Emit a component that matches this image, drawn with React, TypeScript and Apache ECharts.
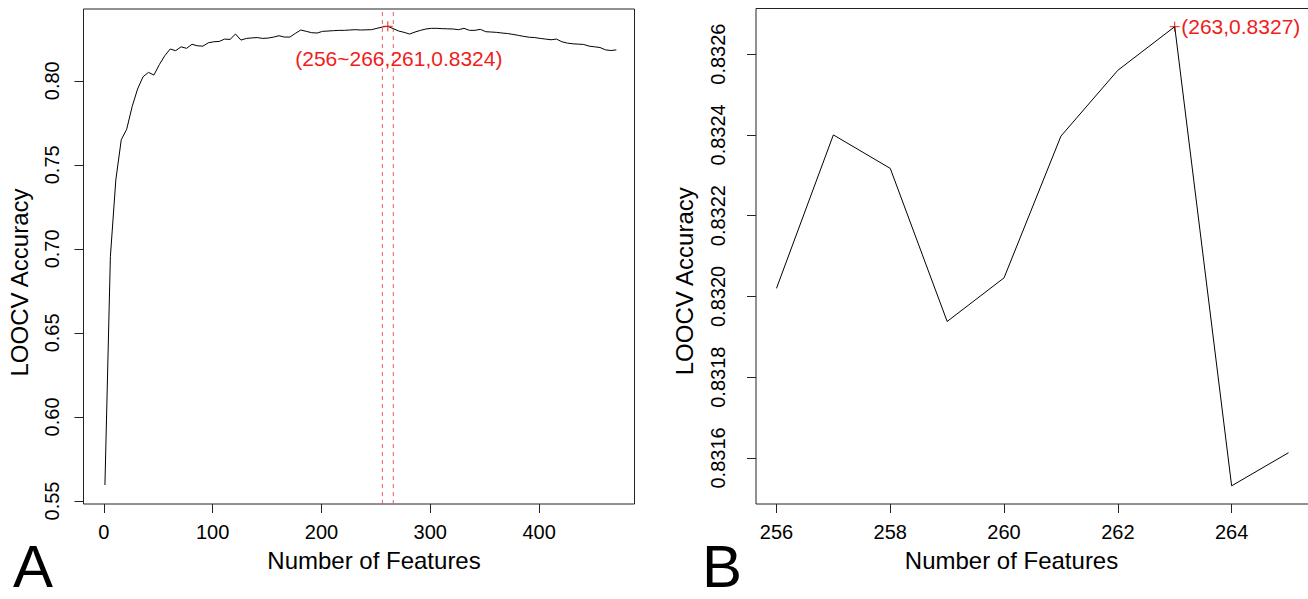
import React, { useEffect, useRef } from "react";
import * as echarts from "echarts";

// Panel A: number of features vs LOOCV accuracy (step 5)
const featuresA = [
  1, 6, 11, 16, 21, 26, 31, 36, 41, 46, 51, 56, 61, 66, 71, 76, 81, 86, 91, 96,
  101, 106, 111, 116, 121, 126, 131, 136, 141, 146, 151, 156, 161, 166, 171, 176, 181, 186, 191, 196,
  201, 206, 211, 216, 221, 226, 231, 236, 241, 246, 251, 256, 261, 266, 271, 276, 281, 286, 291, 296,
  301, 306, 311, 316, 321, 326, 331, 336, 341, 346, 351, 356, 361, 366, 371, 376, 381, 386, 391, 396,
  401, 406, 411, 416, 421, 426, 431, 436, 441, 446, 451, 456, 461, 466, 471,
];
const accuracyA = [
  0.5595, 0.6954, 0.741, 0.7649, 0.7712, 0.7846, 0.7951, 0.8024, 0.805, 0.8034,
  0.8096, 0.8149, 0.8189, 0.8179, 0.8202, 0.8193, 0.8217, 0.8208, 0.8206, 0.8226,
  0.8232, 0.8234, 0.8248, 0.8246, 0.8278, 0.8242, 0.8252, 0.8255, 0.8257, 0.8252,
  0.8254, 0.826, 0.8268, 0.826, 0.826, 0.8282, 0.8302, 0.8294, 0.8286, 0.8284,
  0.8294, 0.8296, 0.8298, 0.83, 0.83, 0.8302, 0.8304, 0.8302, 0.8303, 0.8304,
  0.8312, 0.832, 0.8324, 0.831, 0.8296, 0.8288, 0.8278, 0.829, 0.83, 0.8308,
  0.8312, 0.8312, 0.831, 0.8309, 0.8308, 0.8304, 0.8312, 0.83, 0.83, 0.8306,
  0.8292, 0.829, 0.8288, 0.8284, 0.8281, 0.8276, 0.827, 0.8264, 0.8259, 0.8257,
  0.8252, 0.8248, 0.8244, 0.8248, 0.8232, 0.8224, 0.822, 0.8218, 0.8216, 0.8206,
  0.8202, 0.8198, 0.8184, 0.818, 0.8184,
];
const rangeA = [256, 266];
const bestA = 261;

// Panel B: zoom 256..265 (step 1)
const featuresB = [256, 257, 258, 259, 260, 261, 262, 263, 264, 265];
const accuracyB = [
  0.83202, 0.8324, 0.832317, 0.831938, 0.832046, 0.832397, 0.83256, 0.832668, 0.831531, 0.831613,
];
const bestB = 263;

// Axis limits (R-style 4% padding) and tick labels
const xLimA = [-18.7, 487.7];
const yLimA = [0.5482, 0.8427];
const xLimB = [255.64, 265.36];
const yLimB = [0.831486, 0.832713];
const xTicksA = [0, 100, 200, 300, 400];
const yTicksA = [0.55, 0.6, 0.65, 0.7, 0.75, 0.8];
const xTicksB = [256, 258, 260, 262, 264];
const yTicksB = [0.8316, 0.8318, 0.832, 0.8322, 0.8324, 0.8326];

const FONT = "'Liberation Sans', Arial, Helvetica, sans-serif";
const RED = "#f01c1c";
const DASH_RED = "#f25a5a";
const PLUS = "path://M0,5L10,5M5,0L5,10";

export default function App() {
  const ref = useRef<HTMLDivElement>(null);

  useEffect(() => {
    if (!ref.current) return;
    const chart = echarts.init(ref.current, undefined, { renderer: "svg" });

    const bestAIdx = featuresA.indexOf(bestA);
    const bestBIdx = featuresB.indexOf(bestB);

    const axisCommon = {
      type: "value" as const,
      splitLine: { show: false },
      axisLine: { show: false, onZero: false },
      axisTick: { show: true, inside: false, length: 9, lineStyle: { color: "#222", width: 1 } },
    };
    const labelStyle = { color: "#000", fontSize: 20, fontFamily: FONT };
    const nameStyle = { color: "#000", fontSize: 24, fontFamily: FONT };

    const rangeSeries = rangeA.map((v) => ({
      type: "line",
      xAxisIndex: 0,
      yAxisIndex: 0,
      data: [[v, yLimA[0]], [v, yLimA[1]]],
      showSymbol: false,
      silent: true,
      lineStyle: { color: DASH_RED, type: [4, 4], width: 1 },
      itemStyle: { color: DASH_RED },
      z: 1,
    }));

    chart.setOption({
      animation: false,
      backgroundColor: "#fff",
      textStyle: { fontFamily: FONT },
      grid: [
        {
          left: 83.5, top: 9, width: 551, height: 495,
          show: true, borderColor: "#222", borderWidth: 1, backgroundColor: "transparent",
          outerBoundsMode: "none", containLabel: false,
        },
        {
          left: 756, top: 8.5, width: 553, height: 495.5,
          show: true, borderColor: "#222", borderWidth: 1, backgroundColor: "transparent",
          outerBoundsMode: "none", containLabel: false,
        },
      ],
      xAxis: [
        {
          ...axisCommon,
          gridIndex: 0,
          position: "bottom",
          min: xLimA[0],
          max: xLimA[1],
          axisTick: { ...axisCommon.axisTick, customValues: xTicksA },
          axisLabel: { ...labelStyle, margin: 18, customValues: xTicksA, formatter: (v: number) => String(v) },
          name: "Number of Features",
          nameLocation: "middle",
          nameGap: 44,
          nameTextStyle: { ...nameStyle, padding: [0, 0, 0, 30] },
        },
        {
          ...axisCommon,
          gridIndex: 1,
          position: "bottom",
          min: xLimB[0],
          max: xLimB[1],
          axisTick: { ...axisCommon.axisTick, customValues: xTicksB },
          axisLabel: { ...labelStyle, margin: 18, customValues: xTicksB, formatter: (v: number) => String(v) },
          name: "Number of Features",
          nameLocation: "middle",
          nameGap: 44,
          nameTextStyle: { ...nameStyle, padding: [0, 42, 0, 0] },
        },
      ],
      yAxis: [
        {
          ...axisCommon,
          gridIndex: 0,
          position: "left",
          min: yLimA[0],
          max: yLimA[1],
          axisTick: { ...axisCommon.axisTick, customValues: yTicksA },
          axisLabel: {
            ...labelStyle, margin: 22, rotate: 90, customValues: yTicksA,
            formatter: (v: number) => v.toFixed(2),
          },
          name: "LOOCV Accuracy",
          nameLocation: "middle",
          nameRotate: 90,
          nameGap: 52,
          nameTextStyle: { ...nameStyle, padding: [0, 52, 0, 0] },
        },
        {
          ...axisCommon,
          gridIndex: 1,
          position: "left",
          min: yLimB[0],
          max: yLimB[1],
          axisTick: { ...axisCommon.axisTick, customValues: yTicksB },
          axisLabel: {
            ...labelStyle, margin: 28, rotate: 90, customValues: yTicksB,
            formatter: (v: number) => v.toFixed(4),
          },
          name: "LOOCV Accuracy",
          nameLocation: "middle",
          nameRotate: 90,
          nameGap: 60,
          nameTextStyle: { ...nameStyle, padding: [0, 50, 0, 0] },
        },
      ],
      series: [
        ...rangeSeries,
        {
          type: "line",
          xAxisIndex: 0,
          yAxisIndex: 0,
          data: featuresA.map((x, i) => [x, accuracyA[i]]),
          showSymbol: false,
          lineStyle: { color: "#000", width: 1 },
          itemStyle: { color: "#000" },
          silent: true,
          z: 2,
        },
        {
          type: "scatter",
          xAxisIndex: 0,
          yAxisIndex: 0,
          data: [[bestA, accuracyA[bestAIdx]]],
          symbol: PLUS,
          symbolSize: 10,
          itemStyle: { color: "transparent", borderColor: RED, borderWidth: 1, opacity: 1 },
          silent: true,
          z: 3,
          label: {
            show: true,
            position: "inside",
            offset: [11, 32],
            color: RED,
            opacity: 1,
            fontSize: 21,
            fontFamily: FONT,
            formatter: () =>
              `(${rangeA[0]}~${rangeA[1]},${bestA},${accuracyA[bestAIdx].toFixed(4)})`,
          },
        },
        {
          type: "line",
          xAxisIndex: 1,
          yAxisIndex: 1,
          data: featuresB.map((x, i) => [x, accuracyB[i]]),
          showSymbol: false,
          lineStyle: { color: "#000", width: 1 },
          itemStyle: { color: "#000" },
          silent: true,
        },
        {
          type: "scatter",
          xAxisIndex: 1,
          yAxisIndex: 1,
          data: [[bestB, accuracyB[bestBIdx]]],
          symbol: PLUS,
          symbolSize: 10,
          itemStyle: { color: "transparent", borderColor: RED, borderWidth: 1, opacity: 1 },
          silent: true,
          label: {
            show: true,
            position: "right",
            distance: 1,
            color: RED,
            opacity: 1,
            fontSize: 21,
            fontFamily: FONT,
            formatter: () => `(${bestB},${accuracyB[bestBIdx].toFixed(4)})`,
          },
        },
      ],
      graphic: [
        {
          type: "text",
          left: 13,
          top: 536,
          style: { text: "A", fontSize: 60, fontFamily: FONT, fill: "#000" },
        },
        {
          type: "text",
          left: 702,
          top: 536,
          style: { text: "B", fontSize: 60, fontFamily: FONT, fill: "#000" },
        },
      ],
    });

    return () => chart.dispose();
  }, []);

  return (
    <div
      ref={ref}
      style={{ position: "absolute", left: 0, top: 0, width: 1308, height: 599 }}
    />
  );
}
